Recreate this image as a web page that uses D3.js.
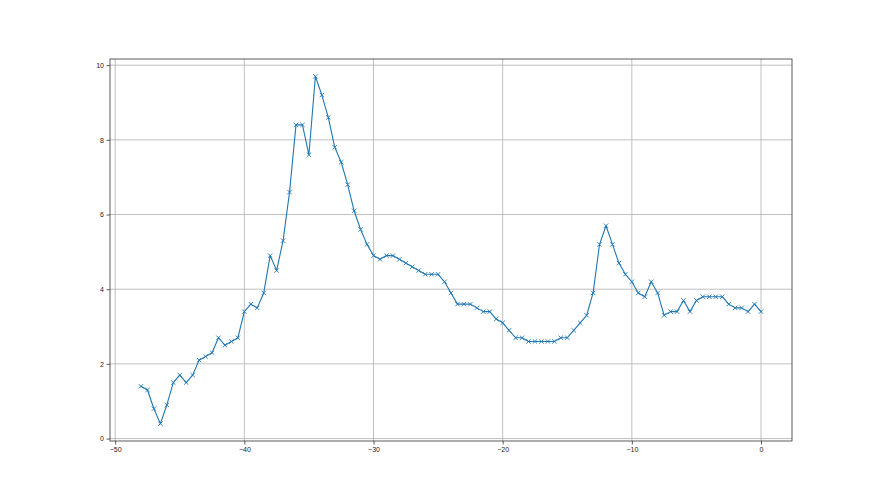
<!DOCTYPE html>
<html>
<head>
<meta charset="utf-8">
<script src="https://cdn.jsdelivr.net/npm/d3@7"></script>
<style>
  body { margin: 0; background: #fff; }
  svg { display: block; font-family: "DejaVu Sans", sans-serif; }
  .tick text { font-size: 7px; fill: #222; }
</style>
</head>
<body>
<svg width="880" height="495"></svg>
<script>
// x positions (step 0.5) and measured values
const xs = [-48, -47.5, -47, -46.5, -46, -45.5, -45, -44.5, -44, -43.5, -43, -42.5,
  -42, -41.5, -41, -40.5, -40, -39.5, -39, -38.5, -38, -37.5, -37, -36.5,
  -36, -35.5, -35, -34.5, -34, -33.5, -33, -32.5, -32, -31.5, -31, -30.5,
  -30, -29.5, -29, -28.5, -28, -27.5, -27, -26.5, -26, -25.5, -25, -24.5,
  -24, -23.5, -23, -22.5, -22, -21.5, -21, -20.5, -20, -19.5, -19, -18.5,
  -18, -17.5, -17, -16.5, -16, -15.5, -15, -14.5, -14, -13.5, -13, -12.5,
  -12, -11.5, -11, -10.5, -10, -9.5, -9, -8.5, -8, -7.5, -7, -6.5,
  -6, -5.5, -5, -4.5, -4, -3.5, -3, -2.5, -2, -1.5, -1, -0.5, 0]
const ys = [1.4, 1.3, 0.8, 0.4, 0.9, 1.5, 1.7, 1.5, 1.7, 2.1, 2.2, 2.3,
  2.7, 2.5, 2.6, 2.7, 3.4, 3.6, 3.5, 3.9, 4.9, 4.5, 5.3, 6.6,
  8.4, 8.4, 7.6, 9.7, 9.2, 8.6, 7.8, 7.4, 6.8, 6.1, 5.6, 5.2,
  4.9, 4.8, 4.9, 4.9, 4.8, 4.7, 4.6, 4.5, 4.4, 4.4, 4.4, 4.2,
  3.9, 3.6, 3.6, 3.6, 3.5, 3.4, 3.4, 3.2, 3.1, 2.9, 2.7, 2.7,
  2.6, 2.6, 2.6, 2.6, 2.6, 2.7, 2.7, 2.9, 3.1, 3.3, 3.9, 5.2,
  5.7, 5.2, 4.7, 4.4, 4.2, 3.9, 3.8, 4.2, 3.9, 3.3, 3.4, 3.4,
  3.7, 3.4, 3.7, 3.8, 3.8, 3.8, 3.8, 3.6, 3.5, 3.5, 3.4, 3.6, 3.4]
const xTicks = [-50, -40, -30, -20, -10, 0]
const yTicks = [0, 2, 4, 6, 8, 10]

const data = xs.map((x, i) => ({ x: x, y: ys[i] }))

const svg = d3.select('svg')
const plotLeft = 110, plotRight = 792, plotTop = 59, plotBottom = 441

const x = d3.scaleLinear().domain([-50.4, 2.4]).range([plotLeft, plotRight])
const y = d3.scaleLinear().domain([-0.065, 10.165]).range([plotBottom, plotTop])

// grid
const grid = svg.append('g')
grid.selectAll('line.gx').data(xTicks).enter().append('line')
  .attr('x1', d => x(d)).attr('x2', d => x(d))
  .attr('y1', plotTop).attr('y2', plotBottom)
  .attr('stroke', '#b0b0b0').attr('stroke-width', 0.8)
grid.selectAll('line.gy').data(yTicks).enter().append('line')
  .attr('x1', plotLeft).attr('x2', plotRight)
  .attr('y1', d => y(d)).attr('y2', d => y(d))
  .attr('stroke', '#b0b0b0').attr('stroke-width', 0.8)

// line + x markers
const line = d3.line().x(d => x(d.x)).y(d => y(d.y))
svg.append('path').datum(data)
  .attr('d', line)
  .attr('fill', 'none')
  .attr('stroke', '#1f77b4')
  .attr('stroke-width', 1.1)
  .attr('stroke-linejoin', 'round')

const m = 2.2
svg.append('g').selectAll('path').data(data).enter().append('path')
  .attr('d', d => {
    const cx = x(d.x), cy = y(d.y)
    return 'M' + (cx - m) + ',' + (cy - m) + 'L' + (cx + m) + ',' + (cy + m) +
      'M' + (cx - m) + ',' + (cy + m) + 'L' + (cx + m) + ',' + (cy - m)
  })
  .attr('stroke', '#1f77b4')
  .attr('stroke-width', 0.9)

// axes
const xAxis = svg.append('g')
  .attr('transform', 'translate(0,' + plotBottom + ')')
  .call(d3.axisBottom(x).tickValues(xTicks).tickSize(3.5).tickPadding(2.5)
    .tickFormat(d => d < 0 ? '\u2212' + Math.abs(d) : d))
xAxis.select('.domain').remove()
xAxis.selectAll('.tick line').attr('stroke', '#333').attr('stroke-width', 0.8)

const yAxis = svg.append('g')
  .attr('transform', 'translate(' + plotLeft + ',0)')
  .call(d3.axisLeft(y).tickValues(yTicks).tickSize(3.5).tickPadding(2.5))
yAxis.select('.domain').remove()
yAxis.selectAll('.tick line').attr('stroke', '#333').attr('stroke-width', 0.8)

// frame
svg.append('rect')
  .attr('x', plotLeft).attr('y', plotTop)
  .attr('width', plotRight - plotLeft).attr('height', plotBottom - plotTop)
  .attr('fill', 'none')
  .attr('stroke', '#333')
  .attr('stroke-width', 0.8)
</script>
</body>
</html>
